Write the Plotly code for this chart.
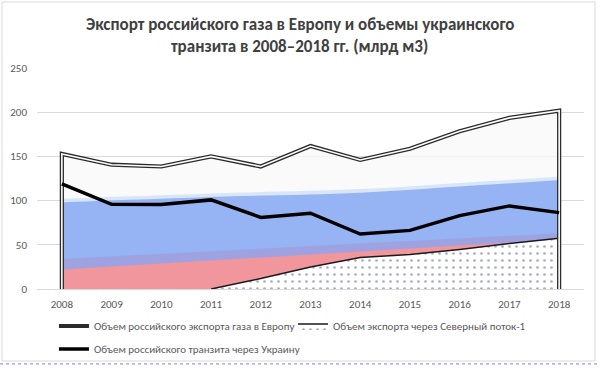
import plotly.graph_objects as go

# ---- data ----
years = [2008, 2009, 2010, 2011, 2012, 2013, 2014, 2015, 2016, 2017, 2018]
export_total = [152.8, 140.6, 138.6, 150.0, 138.6, 161.8, 146.0, 158.7, 178.4, 193.6, 201.6]
ukraine_transit = [119.0, 95.8, 95.5, 100.8, 81.0, 85.7, 62.2, 66.3, 83.0, 94.0, 86.4]
ns_years = [2011, 2012, 2013, 2014, 2015, 2016, 2017, 2018]
nord_stream = [0.0, 11.8, 25.0, 35.7, 39.0, 44.8, 51.6, 57.3]
year_labels = [str(y) for y in years]

# decorative "flag" picture fill bands inside the export area (approximate band edges)
flag_x = [2008, 2011, 2014, 2016, 2018]
flag_blue_top = [98, 104, 109, 116, 123]
flag_edge_x = [2008, 2018]
flag_purple_top = [34, 63]
flag_red_top = [22, 56]

title_lines = ["Экспорт российского газа в Европу и объемы украинского",
               "транзита в 2008–2018 гг. (млрд м3)"]
name_total = "Объем российского экспорта газа в Европу"
name_ns = "Объем экспорта через Северный поток-1"
name_ua = "Объем российского транзита через Украину"

FONT = "Carlito, Calibri, Lato, sans-serif"
GRAY = "#595959"

fig = go.Figure()

# white part of the flag fill (whole export area)
fig.add_trace(go.Scatter(x=years, y=export_total, fill="tozeroy", mode="none",
                         fillcolor="rgba(248,248,250,0.75)", showlegend=False, hoverinfo="skip"))
# light blue transition
fig.add_trace(go.Scatter(x=flag_x, y=[v + 4 for v in flag_blue_top], fill="tozeroy", mode="none",
                         line_shape="spline",
                         fillcolor="rgba(190,214,245,0.55)", showlegend=False, hoverinfo="skip"))
# blue band
fig.add_trace(go.Scatter(x=flag_x, y=flag_blue_top, fill="tozeroy", mode="none",
                         line_shape="spline",
                         fillcolor="rgba(140,172,242,0.88)", showlegend=False, hoverinfo="skip"))
# purple transition
fig.add_trace(go.Scatter(x=flag_edge_x, y=flag_purple_top, fill="tozeroy", mode="none",
                         fillcolor="rgba(160,160,222,0.9)", showlegend=False, hoverinfo="skip"))
# red band
fig.add_trace(go.Scatter(x=flag_edge_x, y=flag_red_top, fill="tozeroy", mode="none",
                         fillcolor="rgba(244,150,152,0.95)", showlegend=False, hoverinfo="skip"))

# Nord Stream dotted area
fig.add_trace(go.Scatter(x=ns_years, y=nord_stream, fill="tozeroy", mode="lines",
                         name=name_ns, legend="legend3",
                         line=dict(color="#1a1a1a", width=1.5),
                         fillcolor="white",
                         fillpattern=dict(shape=".", fgcolor="#a8aebf", bgcolor="white",
                                          size=7, solidity=0.12, fillmode="replace")))

# export total outline (double line)
outline_x = [years[0]] + years + [years[-1]]
outline_y = [0] + export_total + [0]
fig.add_trace(go.Scatter(x=outline_x, y=outline_y, mode="lines", name=name_total, legend="legend",
                         line=dict(color="#2b2b2b", width=4.2)))
fig.add_trace(go.Scatter(x=outline_x, y=outline_y, mode="lines", showlegend=False, hoverinfo="skip",
                         line=dict(color="white", width=1.6)))

# Ukraine transit line
fig.add_trace(go.Scatter(x=years, y=ukraine_transit, mode="lines", name=name_ua, legend="legend2",
                         line=dict(color="black", width=3.5)))

title_font = dict(family=FONT, size=17, color="#404040", weight="bold")
legend_common = dict(orientation="h", xanchor="left", yanchor="middle",
                     font=dict(family=FONT, size=11, color=GRAY),
                     traceorder="normal", bgcolor="rgba(0,0,0,0)")
fig.update_layout(
    width=600, height=368,
    margin=dict(l=37, r=16, t=68, b=79, autoexpand=False),
    paper_bgcolor="white", plot_bgcolor="white",
    font=dict(family=FONT, size=11, color=GRAY),
    showlegend=True,
    legend=dict(x=0.031, y=-0.1674, **legend_common),
    legend3=dict(x=0.468, y=-0.1674, **legend_common),
    legend2=dict(x=0.031, y=-0.2715, **legend_common),
    xaxis=dict(range=[2007.5, 2018.5], tickvals=years, ticktext=year_labels, automargin=False,
               showgrid=False, zeroline=False, showline=True, linecolor="#d9d9d9", linewidth=1,
               ticks="", ticklabelstandoff=5, tickfont=dict(size=11, color=GRAY)),
    yaxis=dict(range=[0, 250], dtick=50, showgrid=True, gridcolor="#d9d9d9", gridwidth=1,
               automargin=False,
               zeroline=False, showline=False, ticks="", ticklabelstandoff=9,
               tickfont=dict(size=11, color=GRAY)),
    annotations=[
        dict(text=title_lines[0], xref="paper", yref="paper", x=0.4808, y=1.199,
             xanchor="center", yanchor="middle", showarrow=False, font=title_font),
        dict(text=title_lines[1], xref="paper", yref="paper", x=0.4808, y=1.0995,
             xanchor="center", yanchor="middle", showarrow=False, font=title_font),
    ],
    shapes=[
        dict(type="rect", xref="paper", yref="paper", x0=-0.064, x1=1.0201, y0=-0.3258, y1=1.2986,
             line=dict(color="#d9d9d9", width=1), fillcolor="rgba(0,0,0,0)", layer="below"),
        dict(type="line", xref="paper", yref="paper", x0=-0.0676, x1=1.029, y0=-0.339, y1=-0.339,
             line=dict(color="#8080e0", width=1, dash="dot")),
    ],
)

fig.write_html("out.html", config={"displayModeBar": False},
               post_script="document.body.style.margin='0';")
